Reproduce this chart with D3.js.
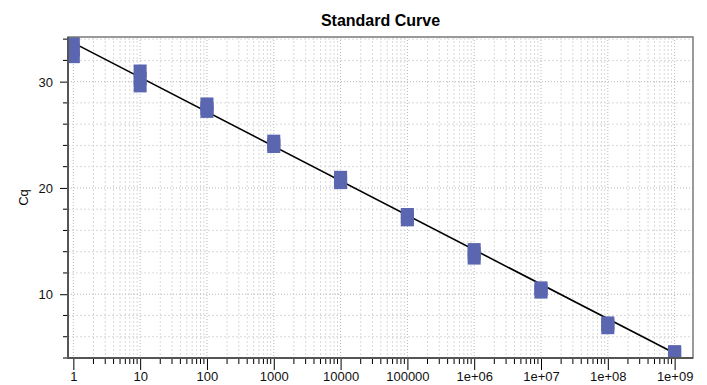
<!DOCTYPE html>
<html>
<head>
<meta charset="utf-8">
<script src="https://cdn.jsdelivr.net/npm/d3@7"></script>
<style>
  body { margin: 0; background: #fff; }
  svg { display: block; font-family: "Liberation Sans", Arial, sans-serif; }
</style>
</head>
<body>
<div id="chart"></div>
<script>
// quantities (x) and replicate Cq values (y)
var concentrations = [1, 10, 100, 1000, 10000, 100000, 1e6, 1e7, 1e8, 1e9];
var cqRep1 = [33.7, 31.0, 27.9, 24.4, 21.0, 17.5, 14.2, 10.6, 7.3, 4.6];
var cqRep2 = [33.0, 30.3, 27.5, 24.1, 20.7, 17.2, 13.8, 10.4, 7.1, 4.5];
var cqRep3 = [32.35, 29.6, 27.2, 23.9, 20.5, 17.0, 13.4, 10.2, 6.85, 4.4];
var xTickLabels = ["1", "10", "100", "1000", "10000", "100000", "1e+06", "1e+07", "1e+08", "1e+09"];
var yTickValues = [10, 20, 30];
// fitted standard curve: Cq = intercept + slope * log10(quantity)
var fitSlope = -3.245;
var fitIntercept = 33.65;

var width = 707, height = 385;
var margin = {top: 37, right: 14, bottom: 27, left: 68};

var svg = d3.select("#chart").append("svg")
    .attr("width", width)
    .attr("height", height);

var xScale = d3.scaleLog()
    .domain([Math.pow(10, -0.08), Math.pow(10, 9.275)])
    .range([margin.left, width - margin.right]);
var yScale = d3.scaleLinear()
    .domain([4, 34.2])
    .range([height - margin.bottom, margin.top]);

var x0 = margin.left, x1 = width - margin.right;
var y0 = margin.top, y1 = height - margin.bottom;

// minor / major positions
var minorX = [];
concentrations.forEach(function (c) {
    for (var k = 2; k <= 9; k++) {
        if (c * k <= xScale.domain()[1]) minorX.push(c * k);
    }
});
var minorY = d3.range(4, 35, 2).filter(function (v) { return v % 10 !== 0; });

svg.append("defs").append("clipPath").attr("id", "plotClip")
    .append("rect")
    .attr("x", x0).attr("y", y0)
    .attr("width", x1 - x0).attr("height", y1 - y0);

// grid
var grid = svg.append("g").attr("class", "grid");
grid.selectAll(".gx-minor").data(minorX).enter().append("line")
    .attr("x1", function (d) { return xScale(d); })
    .attr("x2", function (d) { return xScale(d); })
    .attr("y1", y0).attr("y2", y1)
    .attr("stroke", "#d9d9d9").attr("stroke-dasharray", "2,2");
grid.selectAll(".gx-major").data(concentrations).enter().append("line")
    .attr("x1", function (d) { return xScale(d); })
    .attr("x2", function (d) { return xScale(d); })
    .attr("y1", y0).attr("y2", y1)
    .attr("stroke", "#b8b8b8").attr("stroke-dasharray", "1,2");
grid.selectAll(".gy-minor").data(minorY).enter().append("line")
    .attr("x1", x0).attr("x2", x1)
    .attr("y1", function (d) { return yScale(d); })
    .attr("y2", function (d) { return yScale(d); })
    .attr("stroke", "#d9d9d9").attr("stroke-dasharray", "2,2");
grid.selectAll(".gy-major").data(yTickValues).enter().append("line")
    .attr("x1", x0).attr("x2", x1)
    .attr("y1", function (d) { return yScale(d); })
    .attr("y2", function (d) { return yScale(d); })
    .attr("stroke", "#b8b8b8").attr("stroke-dasharray", "1,2");

// axes
var xAxis = svg.append("g")
    .attr("transform", "translate(0," + y1 + ")")
    .call(d3.axisBottom(xScale).tickValues(concentrations)
        .tickFormat(function (d, i) { return xTickLabels[i]; })
        .tickSize(12).tickSizeOuter(0));
xAxis.append("g").selectAll("line").data(minorX).enter().append("line")
    .attr("x1", function (d) { return xScale(d); })
    .attr("x2", function (d) { return xScale(d); })
    .attr("y1", 0).attr("y2", 6)
    .attr("stroke", "#000");

var yAxis = svg.append("g")
    .attr("transform", "translate(" + x0 + ",0)")
    .call(d3.axisLeft(yScale).tickValues(yTickValues).tickSize(8).tickSizeOuter(0));
yAxis.append("g").selectAll("line").data(minorY).enter().append("line")
    .attr("y1", function (d) { return yScale(d); })
    .attr("y2", function (d) { return yScale(d); })
    .attr("x1", 0).attr("x2", -5)
    .attr("stroke", "#000");

[xAxis, yAxis].forEach(function (a) {
    a.select(".domain").remove();
    a.selectAll("text").attr("font-size", 13).attr("fill", "#111")
        .attr("font-family", "'Liberation Sans', Arial, sans-serif");
});
xAxis.selectAll(".tick text").attr("dy", null).attr("y", 23);
yAxis.selectAll(".tick text").attr("x", -15).attr("dy", "0.35em");

// fitted line
var lineData = [concentrations[0], concentrations[concentrations.length - 1]];
var plot = svg.append("g").attr("clip-path", "url(#plotClip)");
plot.append("path")
    .datum(lineData)
    .attr("fill", "none")
    .attr("stroke", "#000")
    .attr("stroke-width", 1.6)
    .attr("d", d3.line()
        .x(function (d) { return xScale(d); })
        .y(function (d) { return yScale(fitIntercept + fitSlope * Math.log10(d)); }));

// replicate markers
var points = [];
concentrations.forEach(function (c, i) {
    [cqRep1, cqRep2, cqRep3].forEach(function (rep) {
        points.push({x: c, y: rep[i]});
    });
});
var ms = 13;
plot.selectAll(".marker").data(points).enter().append("rect")
    .attr("class", "marker")
    .attr("x", function (d) { return xScale(d.x) - ms / 2; })
    .attr("y", function (d) { return yScale(d.y) - ms / 2; })
    .attr("width", ms).attr("height", ms)
    .attr("fill", "#5b66b1");

// frame
svg.append("rect")
    .attr("x", x0).attr("y", y0)
    .attr("width", x1 - x0).attr("height", y1 - y0)
    .attr("fill", "none").attr("stroke", "#7a7a7a").attr("stroke-width", 1.5);
svg.append("path")
    .attr("d", "M" + x0 + "," + y0 + "V" + y1 + "H" + x1)
    .attr("fill", "none").attr("stroke", "#555").attr("stroke-width", 2);

// title and axis label
svg.append("text")
    .attr("x", (x0 + x1) / 2).attr("y", 26)
    .attr("text-anchor", "middle")
    .attr("font-size", 16).attr("font-weight", "bold")
    .text("Standard Curve");
svg.append("text")
    .attr("transform", "translate(28," + ((y0 + y1) / 2) + ") rotate(-90)")
    .attr("text-anchor", "middle")
    .attr("font-size", 13)
    .text("Cq");
</script>
</body>
</html>
